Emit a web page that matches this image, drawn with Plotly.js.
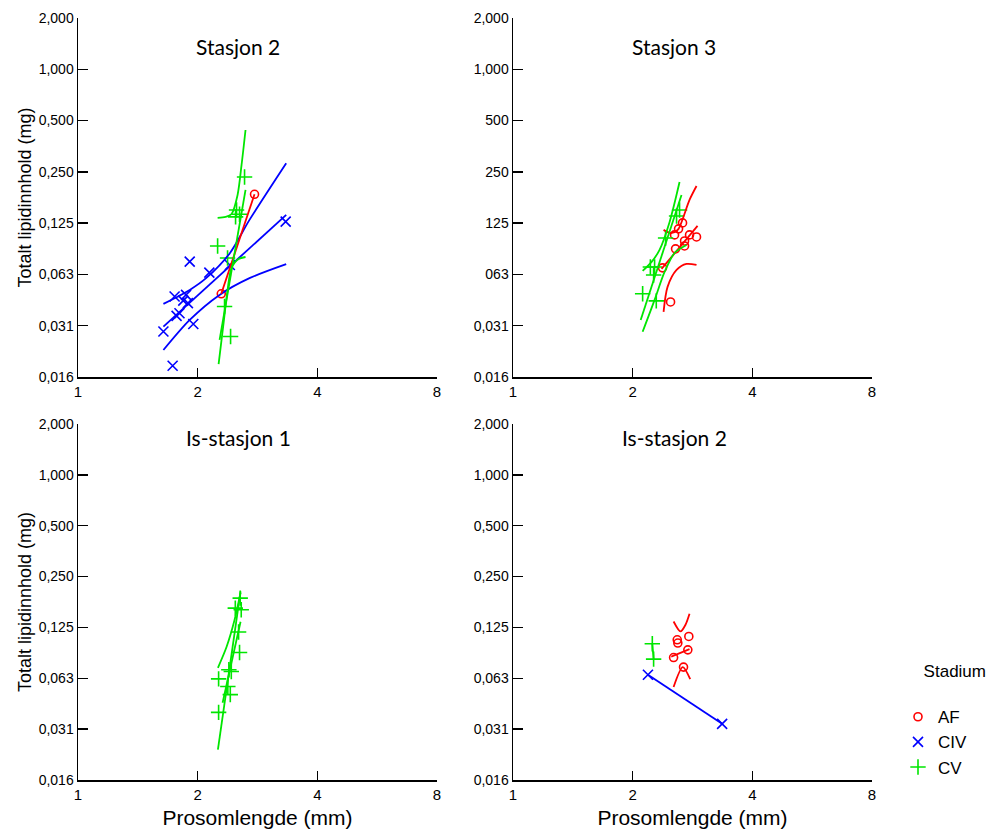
<!DOCTYPE html>
<html><head><meta charset="utf-8">
<script src="https://cdn.plot.ly/plotly-3.0.1.min.js"></script>
<style>html,body{margin:0;padding:0;background:#fff}#chart{width:1001px;height:829px}</style>
</head><body><div id="chart"></div><script>
// ---------- tick labels ----------
const xTickVals = [1, 2, 4, 8];
const xTickText = ['1', '2', '4', '8'];
const yTickVals = [0.015625, 0.03125, 0.0625, 0.125, 0.25, 0.5, 1, 2];
const yTickText = ['0,016', '0,031', '0,063', '0,125', '0,250', '0,500', '1,000', '2,000'];
const yTickText3 = ['0,016', '0,031', '063', '125', '250', '500', '1,000', '2,000'];
const panelTitles = ['Stasjon 2', 'Stasjon 3', 'Is-stasjon 1', 'Is-stasjon 2'];
const stageNames = ['AF', 'CIV', 'CV'];

// ---------- Stasjon 2 ----------
const s2_af_x = [2.293, 2.780];
const s2_af_y = [0.0481, 0.1846];
const s2_civ_x = [1.64, 1.73, 1.75, 1.77, 1.80, 1.84, 1.87, 1.89, 1.91, 1.95, 2.14, 2.41, 3.33];
const s2_civ_y = [0.0289, 0.0182, 0.0464, 0.0357, 0.0370, 0.0439, 0.0474, 0.0424, 0.0743, 0.0320, 0.0641, 0.0710, 0.1276];
const s2_cv_x = [2.245, 2.378, 2.337, 2.420, 2.624, 2.505, 2.549, 2.491];
const s2_cv_y = [0.0918, 0.0781, 0.0405, 0.0270, 0.2332, 0.1494, 0.1410, 0.1360];
// fitted lines / bands
const s2_civ_fit_x = [1.64, 3.34];
const s2_civ_fit_y = [0.0309, 0.1397];
const s2_civ_up_x = [1.64, 1.91, 2.10, 2.41, 2.70, 3.34];
const s2_civ_up_y = [0.0420, 0.0507, 0.0594, 0.0833, 0.1306, 0.2809];
const s2_civ_lo_x = [1.64, 1.91, 2.27, 2.70, 3.34];
const s2_civ_lo_y = [0.0225, 0.0338, 0.0474, 0.0594, 0.0718];
const s2_af_fit_x = [2.293, 2.780];
const s2_af_fit_y = [0.0481, 0.1846];
const s2_cv_fit_x = [2.271, 2.639];
const s2_cv_fit_y = [0.0258, 0.1960];
const s2_cv_up_x = [2.245, 2.351, 2.434, 2.520, 2.579, 2.639];
const s2_cv_up_y = [0.1341, 0.1360, 0.1415, 0.1830, 0.2745, 0.4403];
const s2_cv_lo_x = [2.258, 2.329, 2.378, 2.434, 2.535, 2.639];
const s2_cv_lo_y = [0.0186, 0.0338, 0.0507, 0.0683, 0.0770, 0.0791];

// ---------- Stasjon 3 ----------
const s3_af_x = [2.549, 2.609, 2.670, 2.780, 2.895, 2.701, 2.701, 2.564, 2.378, 2.491];
const s3_af_y = [0.1066, 0.1157, 0.1254, 0.1066, 0.1037, 0.0982, 0.0918, 0.0883, 0.0683, 0.0431];
const s3_cv_x = [2.119, 2.293, 2.216, 2.271, 2.258, 2.420, 2.579, 2.624];
const s3_cv_y = [0.0481, 0.0437, 0.0691, 0.0691, 0.0620, 0.1023, 0.1378, 0.1494];
const s3_af_fit_x = [2.364, 2.912];
const s3_af_fit_y = [0.0673, 0.1204];
const s3_af_up_x = [2.392, 2.477, 2.549, 2.609, 2.780, 2.895];
const s3_af_up_y = [0.1141, 0.1096, 0.1105, 0.1157, 0.1711, 0.2064];
const s3_af_lo_x = [2.392, 2.448, 2.579, 2.732, 2.895];
const s3_af_lo_y = [0.0377, 0.0528, 0.0664, 0.0720, 0.0710];
const s3_cv_fit_x = [2.095, 2.654];
const s3_cv_fit_y = [0.0338, 0.1830];
const s3_cv_up_x = [2.119, 2.232, 2.337, 2.477, 2.624];
const s3_cv_up_y = [0.0655, 0.0740, 0.0871, 0.1271, 0.2179];
const s3_cv_lo_x = [2.119, 2.271, 2.406, 2.549, 2.732];
const s3_cv_lo_y = [0.0288, 0.0443, 0.0646, 0.0835, 0.0930];

// ---------- Is-stasjon 1 ----------
const i1_cv_x = [2.559, 2.487, 2.574, 2.535, 2.549, 2.396, 2.430, 2.258, 2.382, 2.416, 2.258];
const i1_cv_y = [0.1864, 0.1626, 0.1589, 0.1174, 0.0889, 0.0702, 0.0686, 0.0620, 0.0559, 0.0500, 0.0393];
const i1_cv_up_x = [2.249, 2.365, 2.477, 2.564];
const i1_cv_up_y = [0.0721, 0.0960, 0.1387, 0.2004];
const i1_cv_lo_x = [2.249, 2.564];
const i1_cv_lo_y = [0.0236, 0.2041];
const i1_cv_fit_x = [2.311, 2.564];
const i1_cv_fit_y = [0.0448, 0.1350];

// ---------- Is-stasjon 2 ----------
const i2_af_x = [2.589, 2.769, 2.598, 2.753, 2.535, 2.685];
const i2_af_y = [0.1056, 0.1105, 0.1010, 0.0921, 0.0829, 0.0728];
const i2_civ_x = [2.185, 3.358];
const i2_civ_y = [0.0656, 0.0336];
const i2_cv_x = [2.241, 2.258];
const i2_cv_y = [0.1000, 0.0811];
const i2_af_fit_x = [2.501, 2.780];
const i2_af_fit_y = [0.0840, 0.0929];
const i2_af_up_x = [2.535, 2.639, 2.716, 2.780];
const i2_af_up_y = [0.1356, 0.1183, 0.1296, 0.1505];
const i2_af_lo_x = [2.535, 2.674, 2.791];
const i2_af_lo_y = [0.0555, 0.0728, 0.0617];

// ---------- styling ----------
const RED = '#ff0000', BLUE = '#0000ff', GREEN = '#00e600';
const symbols = {AF: 'circle-open', CIV: 'x-thin-open', CV: 'cross-thin-open'};
const colors = {AF: RED, CIV: BLUE, CV: GREEN};
const sizes = {AF: 8, CIV: 10, CV: 11};
const shown = {};

function pts(stage, x, y, ax) {
  const first = !shown[stage];
  shown[stage] = true;
  return {type: 'scatter', mode: 'markers', x: x, y: y, xaxis: 'x' + ax, yaxis: 'y' + ax,
    name: stage, legendgroup: stage, showlegend: first, hoverinfo: 'x+y',
    marker: {symbol: symbols[stage], size: sizes[stage], color: colors[stage],
      line: {color: colors[stage], width: 1.6}}};
}
function ln(stage, x, y, ax) {
  return {type: 'scatter', mode: 'lines', x: x, y: y, xaxis: 'x' + ax, yaxis: 'y' + ax,
    legendgroup: stage, showlegend: false, hoverinfo: 'skip',
    line: {color: colors[stage], width: 1.8, shape: 'spline', smoothing: 0.8}};
}
const ax = ['', '2', '3', '4'];
const traces = [
  pts('AF', s2_af_x, s2_af_y, ax[0]),
  pts('CIV', s2_civ_x, s2_civ_y, ax[0]),
  pts('CV', s2_cv_x, s2_cv_y, ax[0]),
  ln('CIV', s2_civ_fit_x, s2_civ_fit_y, ax[0]),
  ln('CIV', s2_civ_up_x, s2_civ_up_y, ax[0]),
  ln('CIV', s2_civ_lo_x, s2_civ_lo_y, ax[0]),
  ln('AF', s2_af_fit_x, s2_af_fit_y, ax[0]),
  ln('CV', s2_cv_fit_x, s2_cv_fit_y, ax[0]),
  ln('CV', s2_cv_up_x, s2_cv_up_y, ax[0]),
  ln('CV', s2_cv_lo_x, s2_cv_lo_y, ax[0]),

  pts('AF', s3_af_x, s3_af_y, ax[1]),
  pts('CV', s3_cv_x, s3_cv_y, ax[1]),
  ln('AF', s3_af_fit_x, s3_af_fit_y, ax[1]),
  ln('AF', s3_af_up_x, s3_af_up_y, ax[1]),
  ln('AF', s3_af_lo_x, s3_af_lo_y, ax[1]),
  ln('CV', s3_cv_fit_x, s3_cv_fit_y, ax[1]),
  ln('CV', s3_cv_up_x, s3_cv_up_y, ax[1]),
  ln('CV', s3_cv_lo_x, s3_cv_lo_y, ax[1]),

  pts('CV', i1_cv_x, i1_cv_y, ax[2]),
  ln('CV', i1_cv_up_x, i1_cv_up_y, ax[2]),
  ln('CV', i1_cv_lo_x, i1_cv_lo_y, ax[2]),
  ln('CV', i1_cv_fit_x, i1_cv_fit_y, ax[2]),

  pts('AF', i2_af_x, i2_af_y, ax[3]),
  pts('CIV', i2_civ_x, i2_civ_y, ax[3]),
  pts('CV', i2_cv_x, i2_cv_y, ax[3]),
  ln('CIV', i2_civ_x, i2_civ_y, ax[3]),
  ln('CV', i2_cv_x, i2_cv_y, ax[3]),
  ln('AF', i2_af_fit_x, i2_af_fit_y, ax[3]),
  ln('AF', i2_af_up_x, i2_af_up_y, ax[3]),
  ln('AF', i2_af_lo_x, i2_af_lo_y, ax[3])
];

const W = 1001, H = 829;
const xDomL = [78 / W, 437 / W], xDomR = [513 / W, 872 / W];
const yDomT = [1 - 377 / H, 1 - 18 / H], yDomB = [1 - 780 / H, 1 - 424 / H];
const FONT = 'Liberation Sans, Arial, sans-serif';

function xa(dom, anchor, showTitle) {
  const a = {domain: dom, anchor: anchor, type: 'log', range: [0, Math.log10(8)],
    tickvals: xTickVals, ticktext: xTickText, ticks: 'inside', ticklen: 9, tickwidth: 1.5,
    tickcolor: '#000', showline: true, linecolor: '#000', linewidth: 1.5, showgrid: false,
    zeroline: false, tickfont: {family: FONT, size: 15, color: '#000'}};
  if (showTitle) a.title = {text: 'Prosomlengde (mm)', font: {family: FONT, size: 21, color: '#000'}, standoff: 9};
  return a;
}
function ya(dom, anchor, text, showTitle) {
  const a = {domain: dom, anchor: anchor, type: 'log', range: [Math.log10(0.015625), Math.log10(2)],
    tickvals: yTickVals, ticktext: text, ticks: 'inside', ticklen: 10, tickwidth: 1.5,
    tickcolor: '#000', showline: true, linecolor: '#000', linewidth: 1.5, showgrid: false,
    zeroline: false, tickfont: {family: FONT, size: 14, color: '#000'}};
  if (showTitle) a.title = {text: 'Totalt lipidinnhold (mg)', font: {family: FONT, size: 18, color: '#000'}, standoff: 2};
  return a;
}

const titleFont = {family: 'Lato, Open Sans, sans-serif', size: 21, color: '#000'};
const layout = {
  width: W, height: H, margin: {l: 0, r: 0, t: 0, b: 0},
  paper_bgcolor: '#fff', plot_bgcolor: '#fff',
  xaxis: xa(xDomL, 'y', false), yaxis: ya(yDomT, 'x', yTickText, true),
  xaxis2: xa(xDomR, 'y2', false), yaxis2: ya(yDomT, 'x2', yTickText3, false),
  xaxis3: xa(xDomL, 'y3', true), yaxis3: ya(yDomB, 'x3', yTickText, true),
  xaxis4: xa(xDomR, 'y4', true), yaxis4: ya(yDomB, 'x4', yTickText, false),
  annotations: [
    {text: panelTitles[0], x: 238 / W, y: 1 - 47 / H},
    {text: panelTitles[1], x: 674 / W, y: 1 - 47 / H},
    {text: panelTitles[2], x: 238 / W, y: 1 - 437 / H},
    {text: panelTitles[3], x: 674 / W, y: 1 - 437 / H}
  ].map(a => Object.assign(a, {xref: 'paper', yref: 'paper', showarrow: false,
    xanchor: 'center', yanchor: 'middle', font: titleFont})),
  showlegend: true,
  legend: {x: 898 / W, y: 1 - 655 / H, xanchor: 'left', yanchor: 'top',
    font: {family: FONT, size: 17, color: '#000'}, bgcolor: 'rgba(0,0,0,0)',
    title: {text: '\u00a0\u00a0\u00a0\u00a0\u00a0Stadium<br> ', side: 'top', font: {family: FONT, size: 17, color: '#000'}},
    traceorder: 'normal', itemclick: false}
};

Plotly.newPlot('chart', traces, layout, {displayModeBar: false, staticPlot: true});
</script></body></html>
